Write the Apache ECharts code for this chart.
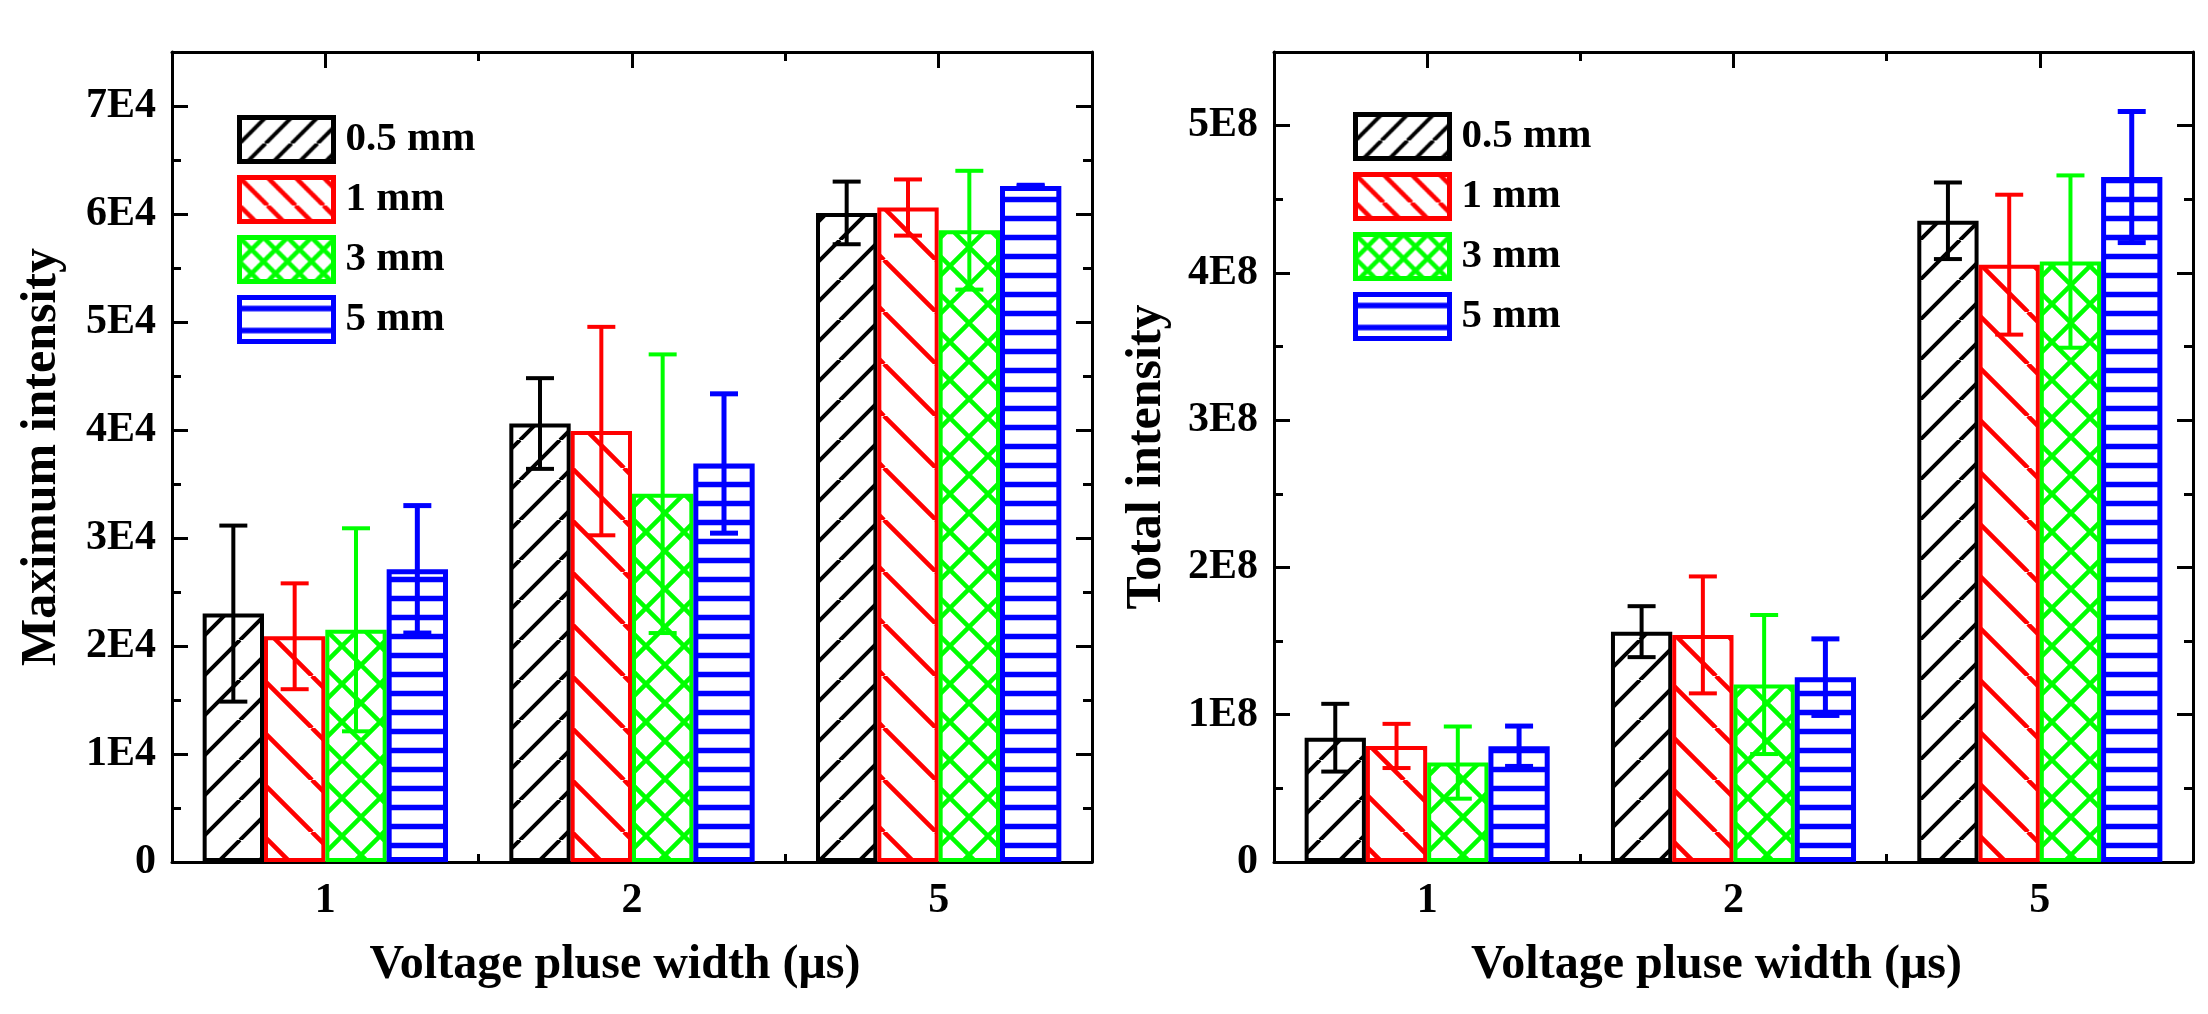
<!DOCTYPE html>
<html>
<head>
<meta charset="utf-8">
<script src="https://cdn.jsdelivr.net/npm/echarts@6.0.0/dist/echarts.min.js"></script>
<style>
  html, body { margin: 0; padding: 0; background: #fff; }
  #chart { width: 2208px; height: 1014px; }
</style>
</head>
<body>
<div id="chart"></div>
<script>
const categories = ['1', '2', '5'];
const seriesNames = ['0.5 mm', '1 mm', '3 mm', '5 mm'];
const seriesColors = ['#000000', '#ff0000', '#00ff00', '#0000ff'];

// Maximum intensity (left panel): means and error half-widths
const maxMean05 = [23000, 40600, 60100];
const maxErr05 = [8150, 4200, 2900];
const maxMean1 = [20900, 39900, 60600];
const maxErr1 = [4900, 9650, 2600];
const maxMean3 = [21500, 34100, 58500];
const maxErr3 = [9400, 12900, 5500];
const maxMean5 = [27100, 36900, 62600];
const maxErr5 = [5900, 6450, 60];

// Total intensity (right panel)
const totMean05 = [0.844e8, 1.564e8, 4.354e8];
const totErr05 = [0.23e8, 0.173e8, 0.26e8];
const totMean1 = [0.788e8, 1.542e8, 4.056e8];
const totErr1 = [0.15e8, 0.397e8, 0.475e8];
const totMean3 = [0.675e8, 1.205e8, 4.077e8];
const totErr3 = [0.245e8, 0.472e8, 0.585e8];
const totMean5 = [0.786e8, 1.255e8, 4.651e8];
const totErr5 = [0.137e8, 0.26e8, 0.445e8];

const FONT = "'Liberation Serif', 'Times New Roman', serif";

// hatch fill tiles, like the Origin patterns
function hatch(kind, color, period, lw) {
  const c = document.createElement('canvas');
  c.width = period;
  c.height = period;
  const ctx = c.getContext('2d');
  const s = period;
  ctx.fillStyle = '#fff';
  ctx.fillRect(0, 0, s, s);
  ctx.strokeStyle = color;
  ctx.lineWidth = lw;
  ctx.beginPath();
  if (kind === 'fwd' || kind === 'cross') {
    for (const o of [-s, 0, s]) { ctx.moveTo(o, s); ctx.lineTo(o + s, 0); }
  }
  if (kind === 'back' || kind === 'cross') {
    for (const o of [-s, 0, s]) { ctx.moveTo(o, 0); ctx.lineTo(o + s, s); }
  }
  if (kind === 'horiz') {
    ctx.moveTo(0, s / 2);
    ctx.lineTo(s, s / 2);
  }
  ctx.stroke();
  return { image: c, repeat: 'repeat' };
}

const kinds = ['fwd', 'back', 'cross', 'horiz'];
const barPeriods = [40, 52, 38, 19];
const legendPeriods = [26, 28, 24, 22];
const lineWidths = [4, 4.5, 4.5, 5.5];
const borderWidths = [4, 4, 4, 5];

function barSeries(i, means, xIdx, yIdx) {
  return {
    type: 'bar',
    name: seriesNames[i],
    xAxisIndex: xIdx,
    yAxisIndex: yIdx,
    barGap: '0%',
    barCategoryGap: '20%',
    data: means,
    itemStyle: {
      color: hatch(kinds[i], seriesColors[i], barPeriods[i], lineWidths[i]),
      borderColor: seriesColors[i],
      borderWidth: borderWidths[i]
    },
    emphasis: { disabled: true },
    z: 2
  };
}

function errorSeries(i, means, errs, xIdx, yIdx) {
  const color = seriesColors[i];
  const lw = borderWidths[i];
  return {
    type: 'custom',
    name: seriesNames[i] + ' error',
    xAxisIndex: xIdx,
    yAxisIndex: yIdx,
    z: 5,
    data: means.map((m, k) => [k, m, errs[k]]),
    encode: { x: 0, y: 1 },
    renderItem: (params, api) => {
      const c = api.value(0);
      const m = api.value(1);
      const e = api.value(2);
      const band = api.size([1, 0])[0];
      const barW = band * 0.8 / 4;
      const x = api.coord([c, m])[0] + (i - 1.5) * barW;
      const yTop = api.coord([c, m + e])[1];
      const yBot = api.coord([c, m - e])[1];
      const hw = 14;
      const style = { stroke: color, lineWidth: lw, fill: null };
      return {
        type: 'group',
        children: [
          { type: 'line', shape: { x1: x, y1: yTop, x2: x, y2: yBot }, style },
          { type: 'line', shape: { x1: x - hw, y1: yTop, x2: x + hw, y2: yTop }, style },
          { type: 'line', shape: { x1: x - hw, y1: yBot, x2: x + hw, y2: yBot }, style }
        ]
      };
    }
  };
}

// onZero off, otherwise the top frame axes get pulled down to y = 0
const axisLine = { show: true, onZero: false, lineStyle: { color: '#000', width: 3 } };
const noLine = { show: false, onZero: false };
// negative length turns the ticks towards the plot
const tick = (len, extra) => Object.assign(
  { show: true, inside: false, length: -len, lineStyle: { width: 3, color: '#000' } }, extra || {});

function xAxes(gridIndex) {
  return [
    {
      gridIndex, type: 'category', position: 'bottom', data: categories,
      axisLine,
      axisTick: tick(8),
      axisLabel: { fontFamily: FONT, fontWeight: 'bold', fontSize: 42, color: '#000', margin: 18 },
      name: 'Voltage pluse width (\u03bcs)',
      nameLocation: 'middle',
      nameGap: 80,
      nameTextStyle: { fontFamily: FONT, fontWeight: 'bold', fontSize: 48, color: '#000', padding: [0, 34, 0, 0] }
    },
    {
      gridIndex, type: 'category', position: 'top', data: categories,
      axisLine,
      axisTick: tick(16, { alignWithLabel: true }),
      axisLabel: { show: false }
    },
    {
      gridIndex, type: 'category', position: 'top', data: categories,
      axisLine: noLine,
      axisTick: tick(9),
      axisLabel: { show: false }
    }
  ];
}

function yAxes(gridIndex, max, step, exp, name, nameGap) {
  const fmt = (v) => {
    if (v === 0) return '0';
    if (Math.abs(v % step) > 1e-6) return '';
    return Math.round(v / Math.pow(10, exp)) + 'E' + exp;
  };
  const base = { gridIndex, type: 'value', min: 0, max, splitLine: { show: false } };
  return [
    Object.assign({}, base, {
      position: 'left', interval: step, axisLine, axisTick: tick(16),
      axisLabel: { formatter: fmt, fontFamily: FONT, fontWeight: 'bold', fontSize: 42, color: '#000', margin: 16 },
      name, nameLocation: 'middle', nameGap,
      nameTextStyle: { fontFamily: FONT, fontWeight: 'bold', fontSize: 50, color: '#000' }
    }),
    Object.assign({}, base, {
      position: 'left', interval: step / 2, axisLine: noLine, axisTick: tick(9),
      axisLabel: { show: false }
    }),
    Object.assign({}, base, {
      position: 'right', interval: step, axisLine, axisTick: tick(16),
      axisLabel: { show: false }
    }),
    Object.assign({}, base, {
      position: 'right', interval: step / 2, axisLine: noLine, axisTick: tick(9),
      axisLabel: { show: false }
    })
  ];
}

function legend(left, top) {
  return {
    orient: 'vertical',
    left, top,
    icon: 'rect',
    itemWidth: 94,
    itemHeight: 44,
    itemGap: 11,
    selectedMode: false,
    textStyle: { fontFamily: FONT, fontWeight: 'bold', fontSize: 41, color: '#000', lineHeight: 44, padding: [0, 0, 0, 7] },
    data: seriesNames.map((n, i) => ({
      name: n,
      itemStyle: {
        color: hatch(kinds[i], seriesColors[i], legendPeriods[i], lineWidths[i]),
        borderColor: seriesColors[i],
        borderWidth: 5
      }
    }))
  };
}

const chart = echarts.init(document.getElementById('chart'), null, { renderer: 'canvas' });

const maxMeans = [maxMean05, maxMean1, maxMean3, maxMean5];
const maxErrs = [maxErr05, maxErr1, maxErr3, maxErr5];
const totMeans = [totMean05, totMean1, totMean3, totMean5];
const totErrs = [totErr05, totErr1, totErr3, totErr5];

const series = [];
for (let i = 0; i < 4; i++) series.push(barSeries(i, maxMeans[i], 0, 0));
for (let i = 0; i < 4; i++) series.push(barSeries(i, totMeans[i], 3, 4));
for (let i = 0; i < 4; i++) series.push(errorSeries(i, maxMeans[i], maxErrs[i], 0, 0));
for (let i = 0; i < 4; i++) series.push(errorSeries(i, totMeans[i], totErrs[i], 3, 4));

const option = {
  animation: false,
  backgroundColor: '#fff',
  grid: [
    { left: 172, top: 52, width: 920, height: 810, outerBoundsMode: 'none' },
    { left: 1274, top: 52, width: 919, height: 810, outerBoundsMode: 'none' }
  ],
  legend: [legend(232, 110), legend(1348, 107)],
  xAxis: xAxes(0).concat(xAxes(1)),
  yAxis: yAxes(0, 75000, 10000, 4, 'Maximum intensity', 105)
    .concat(yAxes(1, 5.5e8, 1e8, 8, 'Total intensity', 102)),
  series
};

chart.setOption(option);
</script>
</body>
</html>
